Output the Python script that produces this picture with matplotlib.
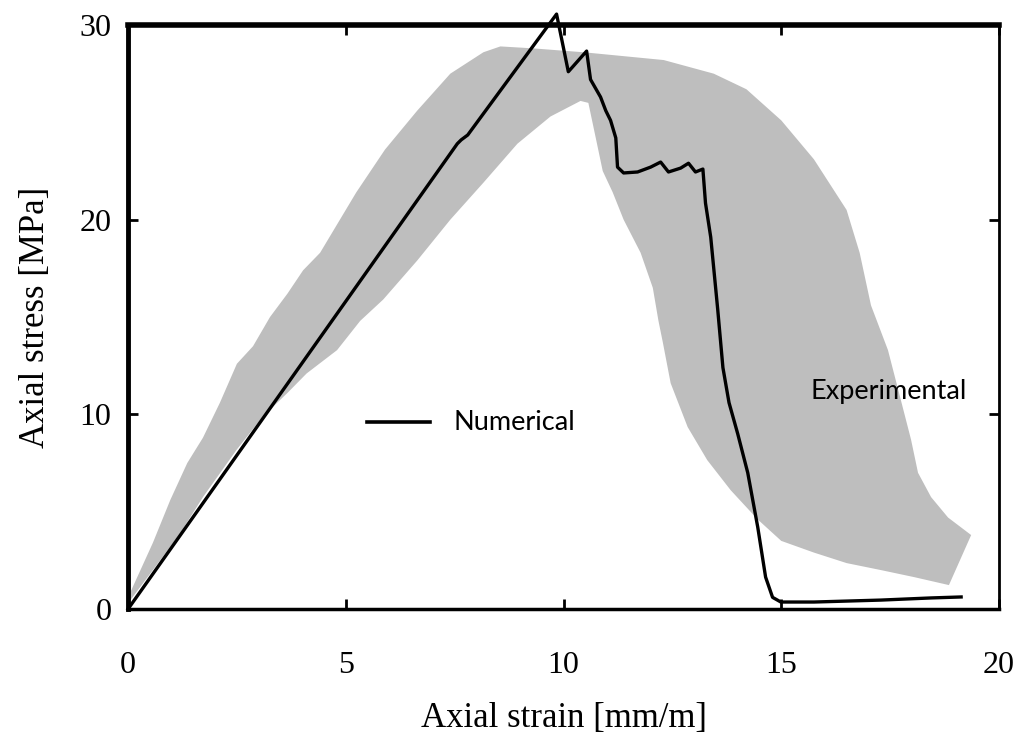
import matplotlib
matplotlib.use("Agg")
import matplotlib.pyplot as plt
import numpy as np

# Numerical curve (strain mm/m, stress MPa)
num_x = [0.0, 7.56, 7.65, 7.8, 9.84, 10.11, 10.53, 10.62, 10.85, 10.97, 11.08, 11.2, 11.24,
         11.38, 11.7, 12.0, 12.23, 12.41, 12.69, 12.87, 13.03, 13.2, 13.26, 13.38, 13.54,
         13.66, 13.8, 14.0, 14.23, 14.46, 14.64, 14.8, 14.99, 15.75, 17.29, 18.44, 19.13]
num_y = [0.0, 23.9, 24.1, 24.35, 30.56, 27.6, 28.66, 27.2, 26.3, 25.6, 25.1, 24.2, 22.7,
         22.4, 22.45, 22.7, 22.96, 22.45, 22.65, 22.9, 22.45, 22.6, 20.85, 19.1, 15.4,
         12.4, 10.6, 9.0, 7.0, 4.2, 1.64, 0.6, 0.36, 0.36, 0.46, 0.57, 0.62]

# Experimental envelope: outer (upper) boundary and inner (lower) boundary
exp_upper_x = [0.0, 0.57, 0.97, 1.36, 1.72, 2.11, 2.5, 2.87, 3.26, 3.66, 4.02, 4.41, 5.24,
               5.9, 6.64, 7.4, 8.16, 8.55, 9.3, 10.46, 11.15, 12.3, 13.45, 14.2, 15.0,
               15.75, 16.5, 16.8, 17.06, 17.45, 17.75, 17.98, 18.14, 18.44, 18.83, 19.36]
exp_upper_y = [0.6, 3.4, 5.6, 7.5, 8.8, 10.6, 12.6, 13.5, 15.0, 16.2, 17.4, 18.3, 21.4,
               23.6, 25.6, 27.5, 28.6, 28.9, 28.8, 28.6, 28.45, 28.2, 27.5, 26.7, 25.1,
               23.1, 20.5, 18.3, 15.6, 13.3, 10.7, 8.7, 7.0, 5.75, 4.7, 3.8]
exp_lower_x = [0.0, 0.57, 1.2, 1.72, 2.5, 3.1, 3.66, 4.1, 4.8, 5.33, 5.86, 6.64, 7.4, 8.16,
               8.94, 9.7, 10.39, 10.57, 10.74, 10.9, 11.13, 11.38, 11.77, 12.05, 12.18,
               12.28, 12.46, 12.85, 13.3, 13.84, 14.46, 15.0, 15.75, 16.5, 17.29, 18.05, 18.85]
exp_lower_y = [0.3, 2.0, 3.9, 5.75, 8.2, 9.9, 11.1, 12.1, 13.3, 14.8, 15.9, 17.9, 20.0, 21.9,
               23.9, 25.3, 26.1, 26.0, 24.2, 22.5, 21.4, 20.0, 18.3, 16.5, 14.8,
               13.7, 11.6, 9.35, 7.65, 6.1, 4.6, 3.5, 2.9, 2.36, 2.0, 1.64, 1.23]

x_ticks = [0, 5, 10, 15, 20]
y_ticks = [0, 10, 20, 30]

fig = plt.figure(figsize=(10.13, 7.42), dpi=100)
ax = fig.add_axes([0.1264, 0.1792, 0.8598, 0.7871])

poly_x = exp_upper_x + exp_lower_x[::-1]
poly_y = exp_upper_y + exp_lower_y[::-1]
ax.fill(poly_x, poly_y, color='#bebebe', lw=0, zorder=1)

ax.plot(num_x, num_y, color='black', lw=2.4, clip_on=False, zorder=3,
        solid_joinstyle='round')

ax.set_xlim(0, 20)
ax.set_ylim(0, 30)
ax.set_xticks(x_ticks)
ax.set_yticks(y_ticks)

serif = ['Liberation Serif', 'DejaVu Serif']
ax.set_xticklabels([str(v) for v in x_ticks], fontfamily=serif, fontsize=23)
ax.set_yticklabels([str(v) for v in y_ticks], fontfamily=serif, fontsize=23)
ax.tick_params(direction='in', length=7, width=2, top=True, right=True, pad=12)
ax.tick_params(axis='x', pad=30)

ax.spines['top'].set_linewidth(4.0)
ax.spines['left'].set_linewidth(3.5)
ax.spines['right'].set_linewidth(2.0)
ax.spines['bottom'].set_linewidth(2.5)

ax.set_xlabel('Axial strain [mm/m]', fontfamily=serif, fontsize=25, labelpad=16)
ax.set_ylabel('Axial stress [MPa]', fontfamily=serif, fontsize=25, labelpad=20)

# In-plot labels
ax.plot([5.49, 6.94], [9.6, 9.6], color='black', lw=2.6, zorder=4)
ax.text(7.47, 9.6, 'Numerical', fontfamily=['Lato', 'DejaVu Sans'], fontsize=19.5,
        va='center', ha='left', zorder=4)
ax.text(15.68, 11.15, 'Experimental', fontfamily=['Lato', 'DejaVu Sans'], fontsize=19.5,
        va='center', ha='left', zorder=4)

fig.savefig('out.png', dpi=100)
